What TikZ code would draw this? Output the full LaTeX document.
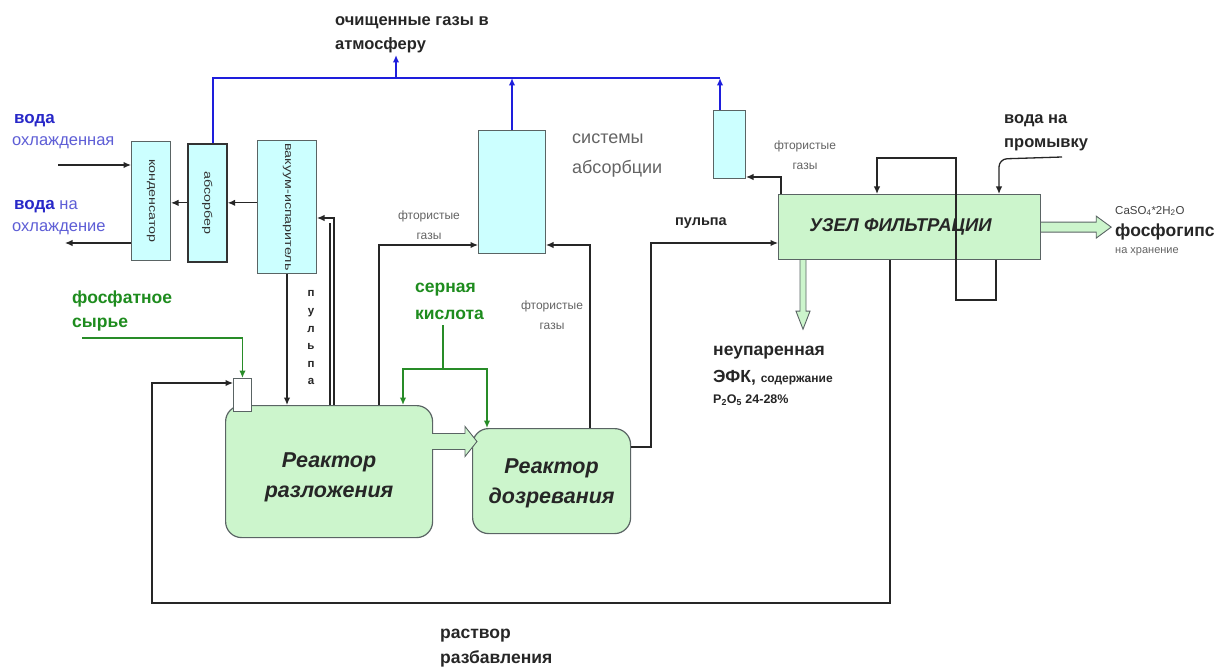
\documentclass[tikz,border=0pt]{standalone}
\usepackage{fontspec}
\setmainfont{Liberation Sans}
\usetikzlibrary{arrows.meta,calc}
\definecolor{lcyan}{RGB}{204,255,255}
\definecolor{lgreen}{RGB}{204,245,204}
\definecolor{lineblue}{RGB}{30,30,220}
\definecolor{txtblue}{RGB}{40,40,200}
\definecolor{txtgreen}{RGB}{30,140,30}
\definecolor{linegreen}{RGB}{40,140,40}
\definecolor{edgegray}{RGB}{90,100,100}
\definecolor{lbltxt}{RGB}{100,100,100}
\begin{document}
\begin{tikzpicture}[x=1pt,y=-1pt,
 cbox/.style={draw=edgegray, fill=lcyan, line width=1pt, inner sep=0pt, anchor=north west},
 gbox/.style={draw=edgegray, fill=lgreen, line width=1.2pt, inner sep=0pt, anchor=north west},
 rbox/.style={gbox, rounded corners=16pt},
 flow/.style={draw=black!85, line width=1.3pt, -{Latex[length=7.5pt,width=6.5pt]}},
 plain/.style={draw=black!85, line width=1.3pt},
 bline/.style={draw=lineblue, line width=1.6pt},
 bflow/.style={bline, -{Latex[length=7.5pt,width=6.5pt]}},
 gline/.style={draw=linegreen, line width=1.4pt},
 gflow/.style={gline, -{Latex[length=7.5pt,width=6.5pt]}},
 hollow/.style={draw=edgegray, fill=lgreen, line width=0.9pt},
 lbl/.style={anchor=west, inner sep=0pt, font=\bfseries\fontsize{16.5}{18}\selectfont, text=black!85},
 small/.style={inner sep=0pt, align=center, font=\fontsize{12}{20}\selectfont, text=lbltxt},
 vtxt/.style={rotate=-90, inner sep=0pt, font=\fontsize{11}{12}\selectfont, text=black!80},
 rtxt/.style={inner sep=0pt, align=center, font=\bfseries\itshape\fontsize{21.5}{30}\selectfont, text=black!85},
]
\useasboundingbox[fill=white] (0,0) rectangle (1218,668);

% boxes
\node[cbox, minimum width=39pt, minimum height=119pt] (cond) at (131,141) {};
\node[cbox, line width=1.7pt, draw=black!80, minimum width=39pt, minimum height=118pt] (abs) at (187,143) {};
\node[cbox, minimum width=59pt, minimum height=133pt] (vac) at (257,140) {};
\node[cbox, minimum width=67pt, minimum height=123pt] (absn) at (478,130) {};
\node[cbox, minimum width=32pt, minimum height=68pt] (small) at (713,110) {};
\node[gbox, minimum width=262pt, minimum height=65pt] (filt) at (778,194) {};
\node[rbox, minimum width=207pt, minimum height=132pt] (r1) at (225,405) {};
\node[rbox, minimum width=158pt, minimum height=105pt] (r2) at (472,428) {};
\node[draw=edgegray, fill=white, line width=0.9pt, inner sep=0pt, anchor=north west, minimum width=18pt, minimum height=33pt] (feed) at (233,378) {};

% box texts
\node[vtxt] (condt) at (cond.center) {\scalebox{1.3}[1]{конденсатор}};
\node[vtxt] (abst) at (abs.center) {\scalebox{1.3}[1]{абсорбер}};
\node[vtxt] (vact) at (vac.center) {\scalebox{1.3}[1]{вакуум-испаритель}};
\node[rtxt] (r1t) at ($(r1.center)+(0,6)$) {Реактор\\разложения};
\node[rtxt] (r2t) at ($(r2.center)+(0,2)$) {Реактор\\дозревания};
\node[inner sep=0pt, font=\bfseries\itshape\fontsize{18.5}{20}\selectfont, text=black!85] (filtt) at ($(filt.center)+(-9,0)$) {УЗЕЛ ФИЛЬТРАЦИИ};

% blue gas collector
\coordinate (bl) at (213,78);
\coordinate (br) at (720,78);
\coordinate (atm) at (396,55);
\draw[bline] (bl |- abs.north) -- (bl) -- (br);
\draw[bflow] (br |- small.north) -- (br);
\draw[bflow] (absn.north) -- (absn.north |- bl);
\draw[bflow] (atm |- bl) -- (atm);

% left group
\coordinate (win) at (58,165);
\coordinate (wout) at (65,243);
\draw[flow] (win) -- (win -| cond.west);
\draw[flow] (wout -| cond.west) -- (wout);
\draw[flow] (vac.west |- abs.east) -- (abs.east);
\draw[flow] (abs.west) -- (abs.west -| cond.east);
\coordinate (dbl) at (334,218);
\coordinate (dbl2) at (330,223);
\draw[flow] (r1.north -| dbl) -- (dbl) -- (dbl -| vac.east);
\draw[plain] (r1.north -| dbl2) -- (dbl2);
\draw[flow] (vac.south) -- (vac.south |- r1.north);

% fluorine gases to absorption
\coordinate (fl) at (379,245);
\coordinate (fr) at (590,245);
\draw[flow] (fl |- r1.north) -- (fl) -- (fl -| absn.west);
\draw[flow] (fr |- r2.north) -- (fr) -- (fr -| absn.east);

% sulfuric acid
\coordinate (sa) at (443,325);
\coordinate (sh) at (443,369);
\coordinate (sl) at (403,369);
\coordinate (sr) at (487,369);
\draw[gline] (sa) -- (sh);
\draw[gflow] (sh) -- (sl) -- (sl |- r1.north);
\draw[gflow] (sh) -- (sr) -- (sr |- r2.north);

% phosphate feed
\coordinate (ph) at (82,338);
\draw[gflow] (ph) -- (ph -| feed.north) -- (feed.north);

% reactor 1 -> reactor 2 hollow arrow
\coordinate (ha) at (432,441.5);
\draw[hollow] ($(ha)+(0,-8)$) -- ++(33,0) -- ++(0,-7) -- ++(12,15) -- ++(-12,15) -- ++(0,-7) -- ++(-33,0);

% pulp to filter
\coordinate (p1) at (651,447);
\coordinate (p2) at (651,243);
\draw[flow] (p1 -| r2.east) -- (p1) -- (p2) -- (p2 -| filt.west);

% fluorine gases from filter
\coordinate (sb) at (781,177);
\draw[flow] (sb |- filt.north) -- (sb) -- (sb -| small.east);

% filter wash loop
\coordinate (lr) at (996,300);
\coordinate (ll) at (956,300);
\coordinate (lt) at (956,158);
\coordinate (la) at (877,158);
\draw[flow] (lr |- filt.south) -- (lr) -- (ll) -- (lt) -- (la) -- (la |- filt.north);

% wash water
\coordinate (w1) at (1062,157);
\coordinate (w2) at (999,159);
\draw[flow, rounded corners=8pt] (w1) -- (w2) -- (w2 |- filt.north);

% phosphogypsum out
\draw[hollow] ($(filt.east)+(0,-5)$) -- ++(55,0) -- ++(0,-6) -- ++(15,11) -- ++(-15,11) -- ++(0,-6) -- ++(-55,0);

% unevaporated acid down
\coordinate (ga) at (803,259);
\draw[hollow] ($(filt.south -| ga)+(-3,0)$) -- ++(0,51) -- ++(-4,0) -- ++(7,18) -- ++(7,-18) -- ++(-4,0) -- ++(0,-51);

% recycle of dilution solution
\coordinate (rb) at (890,603);
\coordinate (rl) at (152,603);
\coordinate (fin) at (152,383);
\draw[flow] (rb |- filt.south) -- (rb) -- (rl) -- (fin) -- (fin -| feed.west);

% texts
\node[lbl] (t1) at (335,23) {очищенные газы в};
\node[lbl] (t2) at (335,45) {атмосферу};
\node[lbl, text=txtblue, font=\bfseries\fontsize{17}{18}\selectfont] (t3) at (14,121) {вода};
\node[anchor=west, inner sep=0pt, font=\fontsize{16.5}{18}\selectfont, text=txtblue!75] (t4) at (12,143) {охлажденная};
\node[anchor=west, inner sep=0pt, font=\fontsize{16.5}{18}\selectfont, text=txtblue!75] (t5) at (14,207) {{\bfseries\fontsize{17}{18}\selectfont\color{txtblue}вода} на};
\node[anchor=west, inner sep=0pt, font=\fontsize{16.5}{18}\selectfont, text=txtblue!75] (t6) at (12,229) {охлаждение};
\node[inner sep=0pt, align=center, font=\bfseries\fontsize{11.5}{17.6}\selectfont, text=black!85] (t7) at (311,338) {п\\у\\л\\ь\\п\\а};
\node[lbl, text=txtgreen, font=\bfseries\fontsize{17.5}{19}\selectfont] (t8) at (72,299) {фосфатное};
\node[lbl, text=txtgreen, font=\bfseries\fontsize{17.5}{19}\selectfont] (t9) at (72,325) {сырье};
\node[lbl, text=txtgreen, font=\bfseries\fontsize{17.5}{19}\selectfont] (t10) at (415,290) {серная};
\node[lbl, text=txtgreen, font=\bfseries\fontsize{17.5}{19}\selectfont] (t11) at (415,315) {кислота};
\node[small] (t12) at (429,225) {фтористые\\газы};
\node[small] (t13) at (552,315) {фтористые\\газы};
\node[small] (t14) at (805,155) {фтористые\\газы};
\node[anchor=north west, inner sep=0pt, align=left, font=\fontsize{18}{30}\selectfont, text=lbltxt] (t15) at (572,134) {системы\\абсорбции};
\node[inner sep=0pt, font=\bfseries\fontsize{14.5}{16}\selectfont, text=black!85] (t16) at (701,223) {пульпа};
\node[lbl] (t17) at (1004,121) {вода на};
\node[lbl] (t18) at (1004,145) {промывку};
\node[anchor=west, inner sep=0pt, font=\fontsize{11.5}{13}\selectfont, text=black!75] (t19) at (1115,211) {CaSO\textsubscript{4}*2H\textsubscript{2}O};
\node[lbl, font=\bfseries\fontsize{17.5}{19}\selectfont] (t20) at (1115,232) {фосфогипс};
\node[anchor=west, inner sep=0pt, font=\fontsize{11}{12}\selectfont, text=lbltxt] (t21) at (1115,252) {на хранение};
\node[lbl, font=\bfseries\fontsize{17.5}{19}\selectfont] (t22) at (713,353) {неупаренная};
\node[lbl, font=\bfseries\fontsize{17.5}{19}\selectfont] (t23) at (713,378) {ЭФК, {\fontsize{12}{14}\selectfont содержание}};
\node[lbl, font=\bfseries\fontsize{12.5}{14}\selectfont] (t24) at (713,400) {P\textsubscript{2}O\textsubscript{5} 24-28\%};
\node[lbl, font=\bfseries\fontsize{17.5}{19}\selectfont] (t25) at (440,636) {раствор};
\node[lbl, font=\bfseries\fontsize{17.5}{19}\selectfont] (t26) at (440,659) {разбавления};
\end{tikzpicture}
\end{document}
